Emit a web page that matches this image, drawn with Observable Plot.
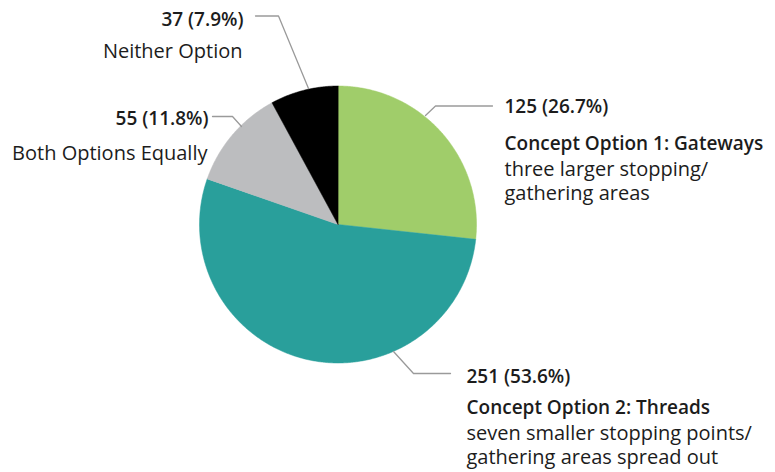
<!DOCTYPE html>
<html>
<head>
<meta charset="utf-8">
<script src="https://cdn.jsdelivr.net/npm/d3@7"></script>
<script src="https://cdn.jsdelivr.net/npm/@observablehq/plot@0.6"></script>
<style>
  html, body { margin: 0; padding: 0; background: #fff; }
  #chart svg { display: block; }
</style>
</head>
<body>
<div id="chart"></div>
<script>
// ---- data ----
const categories = ["Concept Option 1: Gateways", "Concept Option 2: Threads", "Both Options Equally", "Neither Option"];
const counts = [125, 251, 55, 37];
const percents = ["26.7%", "53.6%", "11.8%", "7.9%"];
const descriptions = [
  ["three larger stopping/", "gathering areas"],
  ["seven smaller stopping points/", "gathering areas spread out"],
  [],
  []
];
const colors = ["#a0cd6a", "#299f9b", "#bcbdbf", "#000000"];

// ---- layout ----
const W = 775, H = 472;
const cx = 337.5, cy = 224, R = 138.5;
const labelLayout = [
  {x: 504, y: 112, anchor: "start", boldCat: true, gap: 37},
  {x: 466, y: 382, anchor: "start", boldCat: true, gap: 31},
  {x: 208, y: 124, anchor: "end", boldCat: false, gap: 33},
  {x: 243, y: 25, anchor: "end", boldCat: false, gap: 30}
];
const leaderLayout = [
  [[492, 105.5], [435, 105.5], [425, 115]],
  [[450, 373], [413, 373], [393, 351]],
  [[212, 116], [232, 116], [241, 126]],
  [[255, 15.5], [278, 15.5], [308, 88]]
];
const REG = 20, BOLD = 19, LINE = 24;

// ---- pie geometry from data ----
const pie = d3.pie().sort(null).value(d => d.count)(categories.map((c, i) => ({cat: c, count: counts[i]})));
const slicePts = [];
pie.forEach(s => {
  slicePts.push({cat: s.data.cat, x: cx, y: cy});
  const n = Math.max(4, Math.ceil((s.endAngle - s.startAngle) / (Math.PI / 360)));
  for (let k = 0; k <= n; k++) {
    const a = s.startAngle + (s.endAngle - s.startAngle) * k / n;
    slicePts.push({cat: s.data.cat, x: cx + R * Math.sin(a), y: cy - R * Math.cos(a)});
  }
});

// ---- labels ----
const boldTexts = [], regTexts = [];
categories.forEach((c, i) => {
  const L = labelLayout[i];
  boldTexts.push({x: L.x, y: L.y, text: `${counts[i]} (${percents[i]})`, anchor: L.anchor});
  if (L.boldCat) {
    boldTexts.push({x: L.x, y: L.y + L.gap, text: c, anchor: L.anchor});
    // multi-line description, first baseline one line below the category line
    regTexts.push({x: L.x, y: L.y + L.gap + LINE - 0.71 * REG, text: descriptions[i].join("\n"), anchor: L.anchor});
  } else {
    regTexts.push({x: L.x - 1, y: L.y + L.gap - 0.71 * REG, text: c, anchor: L.anchor});
  }
});
const leaders = leaderLayout.flatMap((pts, i) => pts.map(p => ({key: i, x: p[0], y: p[1]})));

const textMarks = (data, bold) => ["start", "end"].map(anchor => Plot.text(data.filter(t => t.anchor === anchor), {
  x: "x", y: "y", text: "text", textAnchor: anchor,
  lineAnchor: bold ? "bottom" : "top", lineHeight: LINE / (bold ? BOLD : REG),
  fontSize: bold ? BOLD : REG, fontWeight: bold ? 600 : "normal", fill: "#1c1c1c"
}));

const chart = Plot.plot({
  width: W, height: H,
  margin: 0,
  x: {domain: [0, W], axis: null},
  y: {domain: [H, 0], axis: null},
  color: {domain: categories, range: colors},
  style: {fontFamily: "'Open Sans', sans-serif", background: "#fff"},
  marks: [
    Plot.line(slicePts, {x: "x", y: "y", z: "cat", fill: "cat", stroke: "cat", strokeWidth: 0.5, curve: "linear-closed"}),
    Plot.line(leaders, {x: "x", y: "y", z: "key", stroke: "#9a9a9a", strokeWidth: 1.3}),
    ...textMarks(boldTexts, true),
    ...textMarks(regTexts, false)
  ]
});
document.getElementById("chart").appendChild(chart);
</script>
</body>
</html>
